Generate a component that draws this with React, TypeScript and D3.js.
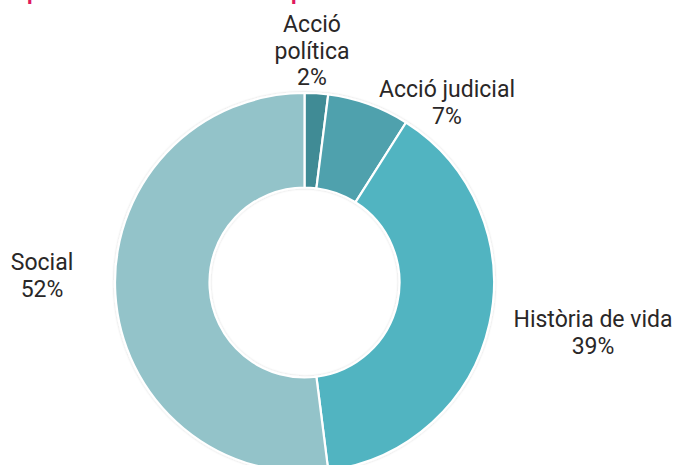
import React, { useEffect, useRef } from "react";
import * as d3 from "d3";

const categories = ["Acció política", "Acció judicial", "Història de vida", "Social"];
const values = [2, 7, 39, 52];
const percentLabels = ["2%", "7%", "39%", "52%"];
const colors = ["#3f8b95", "#4fa1ad", "#51b4c1", "#93c3c9"];
const labelLines = [["Acció", "política", "2%"], ["Acció judicial", "7%"], ["Història de vida", "39%"], ["Social", "52%"]];
const labelPos: [number, number][] = [[312, 32], [447, 97], [593, 327], [42, 270]];
const titleFragments = ["p", "p"];
const titleFragmentX = [27, 291];

export default function App() {
  const ref = useRef<SVGSVGElement | null>(null);
  useEffect(() => {
    const svg = d3.select(ref.current);
    svg.selectAll("*").remove();
    const W = 679, H = 465;
    const cx = 304.5, cy = 282.5, R = 189.5, r = 95;

    const defs = svg.append("defs");
    const f = defs.append("filter").attr("id", "sh").attr("x", "-10%").attr("y", "-10%").attr("width", "120%").attr("height", "120%");
    f.append("feDropShadow").attr("dx", 0).attr("dy", 0).attr("stdDeviation", 1.2).attr("flood-color", "#000").attr("flood-opacity", 0.18);

    // title fragments (title is cut off at the top in the reference)
    svg.selectAll("text.title").data(titleFragments).enter().append("text")
      .attr("class", "title")
      .attr("x", (_d, i) => titleFragmentX[i]).attr("y", -1.5)
      .attr("font-family", "Roboto, sans-serif").attr("font-weight", "bold").attr("font-size", 22)
      .attr("fill", "#e0195e").text(d => d);

    const pie = d3.pie<number>().sort(null).value(d => d);
    const arc = d3.arc<d3.PieArcDatum<number>>().innerRadius(r).outerRadius(R);
    const g = svg.append("g").attr("transform", `translate(${cx},${cy})`).attr("filter", "url(#sh)");
    g.selectAll("path").data(pie(values)).enter().append("path")
      .attr("d", arc as any)
      .attr("fill", (_d, i) => colors[i])
      .attr("stroke", "#ffffff").attr("stroke-width", 2.2);

    const lg = svg.append("g");
    categories.forEach((c, i) => {
      const t = lg.append("text")
        .attr("x", labelPos[i][0]).attr("y", labelPos[i][1])
        .attr("text-anchor", "middle")
        .attr("font-family", "Roboto, sans-serif").attr("font-size", 23)
        .attr("fill", "#2a2727")
        .attr("data-category", c).attr("data-value", percentLabels[i]);
      labelLines[i].forEach((line, j) => {
        t.append("tspan").attr("x", labelPos[i][0]).attr("dy", j === 0 ? 0 : 26.5).text(line);
      });
    });
    svg.attr("width", W).attr("height", H);
  }, []);
  return (
    <svg ref={ref} width={679} height={465} style={{ position: "absolute", left: 0, top: 0, background: "#fff" }} />
  );
}
